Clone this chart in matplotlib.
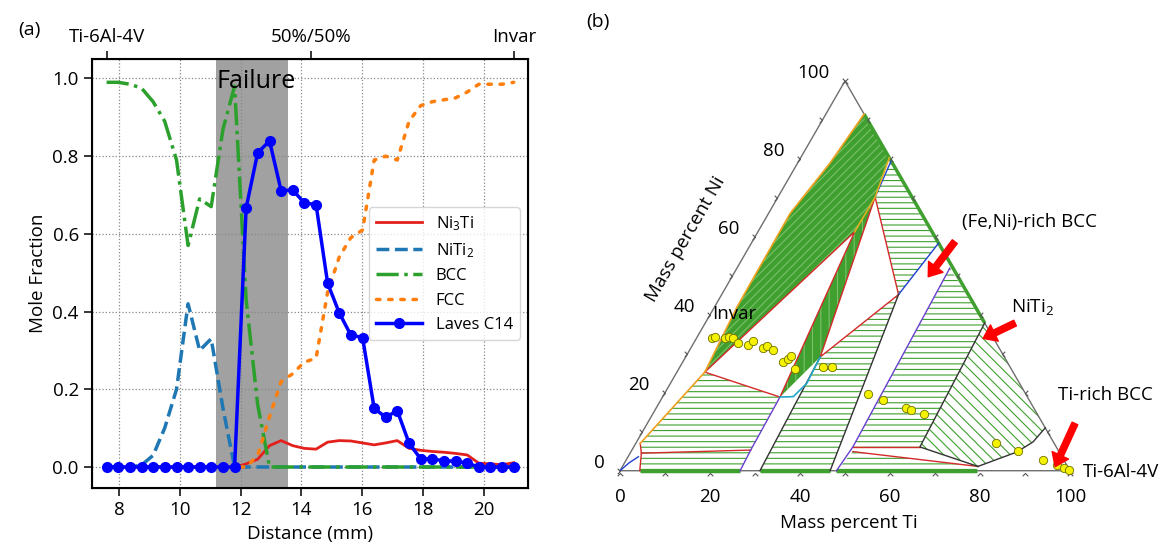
import numpy as np
import matplotlib
matplotlib.use("Agg")
import matplotlib.pyplot as plt
from matplotlib.patches import Polygon
from matplotlib.path import Path

plt.rcParams["font.family"] = ["Open Sans", "DejaVu Sans"]
plt.rcParams["font.size"] = 13.5
plt.rcParams["mathtext.default"] = "regular"
plt.rcParams["hatch.linewidth"] = 0.8

# ---------------- (a) mole fraction along the gradient ----------------
distance = [7.59, 7.97, 8.36, 8.74, 9.12, 9.50, 9.89, 10.27, 10.65, 11.03, 11.42, 11.80,
            12.18, 12.56, 12.95, 13.33, 13.71, 14.09, 14.48, 14.86, 15.24, 15.62, 16.01, 16.39,
            16.77, 17.15, 17.54, 17.92, 18.30, 18.68, 19.07, 19.45, 19.83, 20.21, 20.60, 20.98]
ni3ti = [0, 0, 0, 0, 0, 0, 0, 0, 0, 0, 0, 0,
         0.008, 0.020, 0.055, 0.068, 0.055, 0.048, 0.046, 0.064, 0.068, 0.067, 0.062, 0.057,
         0.062, 0.068, 0.048, 0.043, 0.040, 0.038, 0.035, 0.031, 0.010, 0.008, 0.006, 0.011]
niti2 = [0, 0, 0, 0.005, 0.03, 0.10, 0.20, 0.42, 0.30, 0.33, 0.15, 0.0,
         0, 0, 0, 0, 0, 0, 0, 0, 0, 0, 0, 0,
         0, 0, 0, 0, 0, 0, 0, 0, 0, 0, 0, 0]
bcc = [0.99, 0.99, 0.985, 0.975, 0.94, 0.89, 0.79, 0.57, 0.69, 0.67, 0.87, 0.98,
       0.43, 0.16, 0.0, 0, 0, 0, 0, 0, 0, 0, 0, 0,
       0, 0, 0, 0, 0, 0, 0, 0, 0, 0, 0, 0]
fcc = [0, 0, 0, 0, 0, 0, 0, 0, 0, 0, 0, 0,
       0.0, 0.03, 0.13, 0.22, 0.24, 0.27, 0.28, 0.45, 0.54, 0.59, 0.61, 0.79,
       0.80, 0.79, 0.89, 0.93, 0.94, 0.945, 0.95, 0.965, 0.985, 0.985, 0.985, 0.99]
laves = [0, 0, 0, 0, 0, 0, 0, 0, 0, 0, 0, 0,
         0.667, 0.809, 0.839, 0.711, 0.713, 0.680, 0.675, 0.473, 0.397, 0.340, 0.333, 0.151,
         0.128, 0.145, 0.061, 0.021, 0.021, 0.016, 0.015, 0.010, 0.0, 0.0, 0.0, 0.0]
top_ticks = [7.6, 14.3, 21.0]
top_labels = ["Ti-6Al-4V", "50%/50%", "Invar"]
failure_zone = (11.2, 13.55)

fig = plt.figure(figsize=(11.72, 5.55), dpi=100)
ax = fig.add_axes([92 / 1172, 67 / 555, 436 / 1172, 429 / 555])

ax.axvspan(*failure_zone, color="gray", alpha=0.74, lw=0, zorder=1)
ax.plot(distance, ni3ti, color="#e3201b", lw=2, label="Ni$_3$Ti", zorder=3)
ax.plot(distance, niti2, color="#1f77b4", lw=2.5, ls="--", label="NiTi$_2$", zorder=3)
ax.plot(distance, bcc, color="#2ca02c", lw=2.5, ls="-.", label="BCC", zorder=3)
ax.plot(distance, fcc, color="#ff7f0e", lw=2.5, ls=(0, (1, 2.5)), dash_capstyle="round",
        label="FCC", zorder=3)
ax.plot(distance, laves, color="blue", lw=2.5, marker="o", ms=7, label="Laves C14", zorder=4)
ax.text(12.5, 0.975, "Failure", fontsize=18, ha="center", va="baseline", zorder=5)

ax.set_xlim(7.11, 21.45)
ax.set_ylim(-0.054, 1.05)
ax.set_xticks([8, 10, 12, 14, 16, 18, 20])
ax.set_yticks([0.0, 0.2, 0.4, 0.6, 0.8, 1.0])
ax.set_xlabel("Distance (mm)")
ax.set_ylabel("Mole Fraction")
ax.grid(True, linestyle=":", color="#888888", lw=0.9, zorder=0)
ax.tick_params(length=6, width=1.1)
for s in ax.spines.values():
    s.set_linewidth(1.5)
ax.legend(loc="center right", handlelength=2.8, fontsize=12, edgecolor="#cccccc")

ax_top = ax.twiny()
ax_top.set_xlim(ax.get_xlim())
ax_top.set_xticks(top_ticks)
ax_top.set_xticklabels(top_labels)
ax_top.tick_params(length=6, width=1.1)

fig.text(18 / 1172, 1 - 30 / 555, "(a)", fontsize=14, va="center")
fig.text(586 / 1172, 1 - 22 / 555, "(b)", fontsize=14, va="center")

# ---------------- (b) Fe-Ni-Ti isothermal section (mass %, Ti, Ni) ----------------
fcc_edge = [(8.5, 91.5), (7.2, 78.9), (4.8, 66.0), (5.0, 42.0), (6.2, 25.3), (1.0, 7.0)]
ni3ti_edge = [(19.7, 80.3), (21.6, 70.2), (21.5, 61.3)]
fan = [(8.5, 91.5), (7.2, 78.9), (4.8, 66.0), (5.0, 42.0), (6.2, 25.3),
       (21.5, 61.3), (21.6, 70.2), (19.7, 80.3)]
tri_fcc = [(6.2, 25.3), (21.5, 61.3), (26.1, 18.9)]
band = [(21.5, 61.3), (21.6, 70.2), (29.9, 29.2), (26.1, 18.9)]
reg_top = [(20.5, 79.5), (21.6, 70.2), (39.3, 45.2), (41.6, 58.4)]
tri_mid = [(21.6, 70.2), (29.9, 29.2), (39.3, 45.2)]
reg_mid = [(29.9, 29.2), (39.3, 45.2), (46.7, 0.0), (31.1, 0.0)]
reg_fcc = [(6.2, 25.3), (26.1, 18.9), (26.4, 5.3), (2.5, 4.5), (1.0, 7.0)]
reg_low = [(2.5, 4.5), (26.4, 5.3), (26.7, 0.0), (4.4, 0.0)]
reg_niti = [(47.3, 52.0), (62.1, 37.9), (63.6, 6.1), (48.7, 6.1)]
tri_low = [(48.7, 6.1), (63.6, 6.1), (79.0, 1.1), (49.3, 4.9)]
reg_base = [(49.3, 4.9), (79.0, 1.1), (79.3, 0.0), (48.1, 0.0)]
reg_ti = [(62.1, 37.9), (89.0, 11.0), (88.1, 7.4), (85.8, 4.8), (79.0, 1.1), (63.6, 6.1)]

blue_lines = [[(20.5, 79.5), (21.6, 70.2)], [(39.3, 45.2), (41.6, 58.4)],
              [(0.0, 0.0), (1.0, 2.0), (2.3, 3.6)]]
purple_lines = [[(26.1, 18.9), (26.4, 5.3), (26.7, 0.0)], [(47.3, 52.0), (48.7, 6.1), (48.1, 0.0)]]
dark_lines = [[(29.9, 29.2), (31.1, 0.0)], [(39.3, 45.2), (46.7, 0.0)],
              [(62.1, 37.9), (63.6, 6.1), (79.0, 1.1)],
              [(79.0, 1.1), (85.8, 4.8), (88.1, 7.4), (89.0, 11.0)]]
red_lines = [[(2.5, 4.5), (26.4, 5.3)], [(1.0, 7.0), (2.5, 4.5), (4.4, 0.0)],
             [(48.7, 6.1), (63.6, 6.1)], [(49.3, 4.9), (79.0, 1.1)]]
cyan_curve = [(26.1, 18.9), (29.0, 19.0), (30.3, 22.4), (29.9, 29.2)]
green_edges = [[(8.5, 91.5), (62.1, 37.9)], [(4.4, 0.0), (26.7, 0.0)],
               [(31.1, 0.0), (46.7, 0.0)], [(48.1, 0.0), (79.3, 0.0)]]

exp_ti = [3.4, 3.9, 6.4, 7.2, 8.1, 9.8, 12.4, 12.8, 15.9, 16.6, 18.4, 22.2, 23.1, 23.4, 25.9,
          31.7, 33.8, 45.3, 49.4, 55.6, 56.8, 60.4, 80.0, 86.0, 92.6, 96.3, 98.4, 99.6]
exp_ni = [34.0, 34.4, 34.0, 34.2, 34.0, 32.7, 32.3, 33.4, 31.6, 32.0, 31.0, 28.0, 28.6, 29.4, 26.0,
          26.7, 26.7, 19.8, 18.1, 16.0, 15.6, 14.5, 7.2, 5.1, 2.8, 1.5, 0.6, 0.2]
axis_ticks = [0, 10, 20, 30, 40, 50, 60, 70, 80, 90, 100]
axis_labels = [0, 20, 40, 60, 80, 100]

SQ = np.sqrt(3) / 2
GREEN = "#3f9f2f"


def tern(pts):
    a = np.asarray(pts, float)
    return np.column_stack([a[:, 0] + a[:, 1] / 2, a[:, 1] * SQ])


axb = fig.add_axes([560 / 1172, 0, 612 / 1172, 1])
axb.set_xlim(-13.33, 122.67)
axb.set_ylim(-18.73, 104.6)
axb.axis("off")

# tie-line regions
for reg, hatch in [(reg_top, "---"), (reg_mid, "---"), (reg_fcc, "---"), (reg_low, "---"),
                   (reg_niti, "---"), (reg_base, "---"), (reg_ti, "\\\\\\")]:
    axb.add_patch(Polygon(tern(reg), closed=True, facecolor="none", edgecolor=GREEN,
                          lw=0, hatch=hatch, zorder=1))
axb.add_patch(Polygon(tern(fan), closed=True, facecolor=GREEN, edgecolor="#7cc26c",
                      lw=0, hatch="////", zorder=1))
axb.add_patch(Polygon(tern(band), closed=True, facecolor=GREEN, edgecolor="#7cc26c",
                      lw=0, hatch="||", zorder=1))

# triangle frame
frame = tern([(0, 0), (100, 0), (0, 100), (0, 0)])
axb.plot(frame[:, 0], frame[:, 1], color="#6e6e6e", lw=1, zorder=2)
for seg in green_edges:
    p = tern(seg)
    axb.plot(p[:, 0], p[:, 1], color=GREEN, lw=2.5, zorder=2.5, solid_capstyle="butt")

# phase boundaries
for tri in [tri_fcc, tri_mid]:
    p = tern(tri + tri[:1])
    axb.plot(p[:, 0], p[:, 1], color="#d42a2a", lw=1, zorder=3)
for seg in red_lines:
    p = tern(seg)
    axb.plot(p[:, 0], p[:, 1], color="#d42a2a", lw=1, zorder=3)
for seg in blue_lines:
    p = tern(seg)
    axb.plot(p[:, 0], p[:, 1], color="#2040d0", lw=1, zorder=3)
for seg in purple_lines:
    p = tern(seg)
    axb.plot(p[:, 0], p[:, 1], color="#6a3fd0", lw=1, zorder=3)
for seg in dark_lines:
    p = tern(seg)
    axb.plot(p[:, 0], p[:, 1], color="#333333", lw=1, zorder=3)
p = tern(cyan_curve)
axb.plot(p[:, 0], p[:, 1], color="#22a8c8", lw=1.2, zorder=3)
p = tern(fcc_edge)
axb.plot(p[:, 0], p[:, 1], color="#f0a020", lw=1.2, zorder=3)
p = tern(ni3ti_edge)
axb.plot(p[:, 0], p[:, 1], color="#e0b020", lw=1.2, zorder=3)

# experimental compositions
p = tern(list(zip(exp_ti, exp_ni)))
axb.plot(p[:, 0], p[:, 1], "o", ms=6, mfc="#f4f200", mec="#707000", mew=0.6, zorder=5)

# ticks
chev_up = Path([(-1, -1), (0, 0), (1, -1)], [Path.MOVETO, Path.LINETO, Path.LINETO])
chev_right = Path([(-1, 1), (0, 0), (-1, -1)], [Path.MOVETO, Path.LINETO, Path.LINETO])
chev_left = Path([(1, 1), (0, 0), (1, -1)], [Path.MOVETO, Path.LINETO, Path.LINETO])
t = np.array(axis_ticks, float)
axb.plot(t, np.full_like(t, -0.6), ls="none", marker=chev_up, ms=4, mfc="none",
         mec="#555555", mew=0.8, zorder=4)
axb.plot(t / 2, t * SQ, ls="none", marker=chev_right, ms=4, mfc="none",
         mec="#555555", mew=0.8, zorder=4)
axb.plot(100 - t / 2, t * SQ, ls="none", marker=chev_left, ms=4, mfc="none",
         mec="#555555", mew=0.8, zorder=4)
for v in axis_labels:
    axb.text(v, -5.8, str(v), ha="center", va="center")
    axb.text(v / 2 - 3.4, v * SQ + 1.8, str(v), ha="right", va="center")
axb.text(50.9, -11.6, "Mass percent Ti", ha="center", va="center")
axb.text(14.6, 51.5, "Mass percent Ni", ha="center", va="center", rotation=60)

# annotations
axb.text(25.3, 34.8, "Invar", ha="center", va="center", zorder=6)
axb.text(90.9, 55.2, "(Fe,Ni)-rich BCC", ha="center", va="center")
axb.text(91.6, 36.4, "NiTi$_2$", ha="center", va="center")
axb.text(107.8, 16.8, "Ti-rich BCC", ha="center", va="center")
axb.text(102.9, -0.2, "Ti-6Al-4V", ha="left", va="center")
arrow = dict(facecolor="red", edgecolor="red", width=4.5, headwidth=13, headlength=9,
             shrink=0)
for head, tail in [((68.5, 43.1), (74.4, 50.9)), ((80.7, 29.4), (87.8, 32.8)),
                   ((96.7, 0.9), (101.1, 10.5))]:
    axb.annotate("", xy=head, xytext=tail, arrowprops=arrow, zorder=7)

fig.savefig("out.png", dpi=100)
